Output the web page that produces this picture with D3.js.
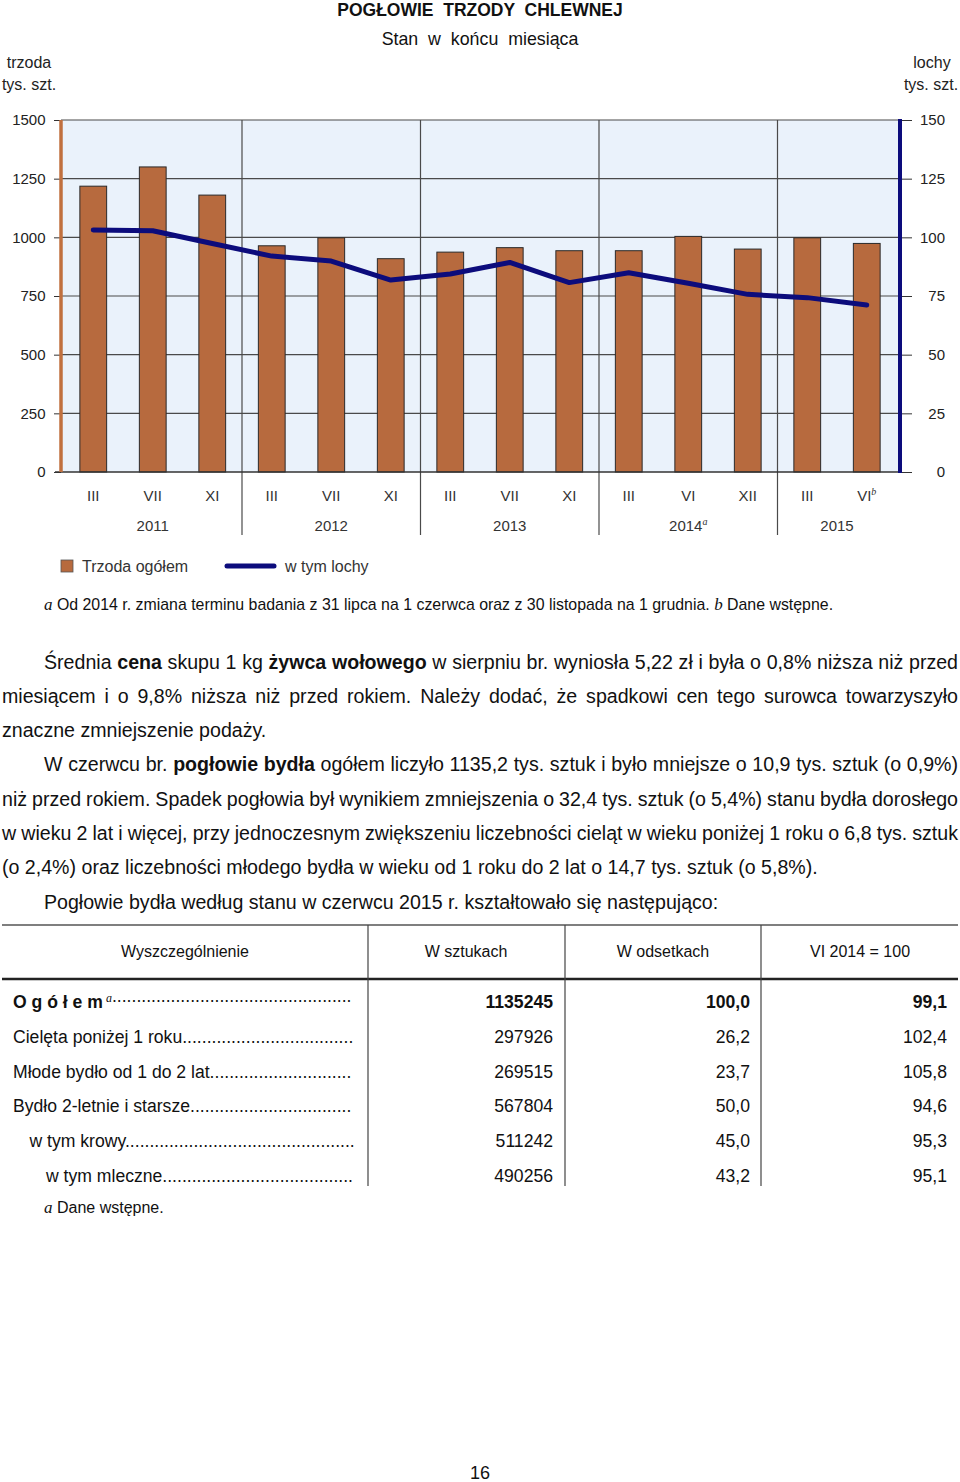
<!DOCTYPE html>
<html><head><meta charset="utf-8">
<script src="https://cdn.jsdelivr.net/npm/d3@7"></script>
<style>body{margin:0;background:#fff}svg{display:block;font-family:Arial,"Liberation Sans",sans-serif}</style>
</head><body>
<script>
// ---- chart data ----
const months = ["III","VII","XI","III","VII","XI","III","VII","XI","III","VI","XII","III","VI"];
const monthSup = ["","","","","","","","","","","","","","b"];
const years = ["2011","2012","2013","2014","2015"];
const yearSup = ["","","","a",""];
const yearSpans = [3,3,3,3,2];
const trzoda = [1218,1300,1180,964,998,909,937,956,943,943,1004,950,998,974];
const lochy = [103.1,102.8,97.4,92.0,89.9,81.8,84.4,89.3,80.7,84.9,80.4,75.7,74.3,71.2];
const leftTicks = [0,250,500,750,1000,1250,1500];
const rightTicks = [0,25,50,75,100,125,150];
const seriesNames = ["Trzoda ogółem","w tym lochy"];

// ---- table data ----
const tableHeaders = ["Wyszczególnienie","W sztukach","W odsetkach","VI 2014 = 100"];
const rowLabels = ["O g ó ł e m","Cielęta poniżej 1 roku","Młode bydło od 1 do 2 lat","Bydło 2-letnie i starsze","w tym krowy","w tym mleczne"];
const rowIndent = [0,0,0,0,1,2];
const colSztuk = ["1135245","297926","269515","567804","511242","490256"];
const colOdsetki = ["100,0","26,2","23,7","50,0","45,0","43,2"];
const colIndex = ["99,1","102,4","105,8","94,6","95,3","95,1"];

// ---- text ----
const paraLines = [
  {x:44, j:true, segs:[["Średnia ",0],["cena",1],[" skupu 1 kg ",0],["żywca wołowego",1],[" w sierpniu br. wyniosła 5,22 zł i była o 0,8% niższa niż przed",0]]},
  {x:2, j:true, segs:[["miesiącem i o 9,8% niższa niż przed rokiem. Należy dodać, że spadkowi cen tego surowca towarzyszyło",0]]},
  {x:2, j:false, segs:[["znaczne zmniejszenie podaży.",0]]},
  {x:44, j:true, segs:[["W czerwcu br. ",0],["pogłowie bydła",1],[" ogółem liczyło 1135,2 tys. sztuk i było mniejsze o 10,9 tys. sztuk (o 0,9%)",0]]},
  {x:2, j:true, segs:[["niż przed rokiem. Spadek pogłowia był wynikiem zmniejszenia o 32,4 tys. sztuk (o 5,4%) stanu bydła dorosłego",0]]},
  {x:2, j:true, segs:[["w wieku 2 lat i więcej, przy jednoczesnym zwiększeniu liczebności cieląt w wieku poniżej 1 roku o 6,8 tys. sztuk",0]]},
  {x:2, j:false, segs:[["(o 2,4%) oraz liczebności młodego bydła w wieku od 1 roku do 2 lat o 14,7 tys. sztuk (o 5,8%).",0]]},
  {x:44, j:false, segs:[["Pogłowie bydła według stanu w czerwcu 2015 r. kształtowało się następująco:",0]]}
];

const W = 960, H = 1482;
const barColor = "#b76a3e", lineColor = "#0c0c7c", bgColor = "#eaf2fb", gridColor = "#4a4a4a", txt = "#222";
const svg = d3.select("body").append("svg").attr("width", W).attr("height", H);

// Titles
svg.append("text").attr("x",480).attr("y",15.5).attr("text-anchor","middle").attr("font-size",17.5).attr("font-weight","bold").attr("fill","#111").attr("xml:space","preserve").text("POGŁOWIE  TRZODY  CHLEWNEJ");
svg.append("text").attr("x",480).attr("y",45).attr("text-anchor","middle").attr("font-size",17.8).attr("fill","#111").attr("xml:space","preserve").text("Stan  w  końcu  miesiąca");
[["trzoda",29,68],["tys. szt.",29,90],["lochy",932,68],["tys. szt.",931,90]].forEach(d=>{
  svg.append("text").attr("x",d[1]).attr("y",d[2]).attr("text-anchor","middle").attr("font-size",16).attr("fill",txt).text(d[0]);
});

// Scales
const x = d3.scaleBand().domain(d3.range(months.length)).range([63.5,896.5]).paddingInner(0.55).paddingOuter(0.275);
const yL = d3.scaleLinear().domain([0,1500]).range([472,120]);
const yR = d3.scaleLinear().domain([0,150]).range([472,120]);
const plotL = 61, plotR = 900;

svg.append("rect").attr("x",plotL).attr("y",120).attr("width",plotR-plotL).attr("height",352).attr("fill",bgColor);

// horizontal grid
svg.append("g").selectAll("line").data(leftTicks.slice(1)).join("line")
  .attr("x1",plotL).attr("x2",plotR).attr("y1",d=>yL(d)).attr("y2",d=>yL(d))
  .attr("stroke",gridColor).attr("stroke-width",1.2);

// year separators
let cum = 0; const seps = [];
yearSpans.slice(0,-1).forEach(s=>{cum+=s; seps.push((x(cum-1)+x.bandwidth()+x(cum))/2);});
svg.append("g").selectAll("line").data(seps).join("line")
  .attr("x1",d=>d).attr("x2",d=>d).attr("y1",120).attr("y2",535)
  .attr("stroke",gridColor).attr("stroke-width",1.2);

// bars
svg.append("g").selectAll("rect").data(trzoda).join("rect")
  .attr("x",(d,i)=>x(i)).attr("width",x.bandwidth())
  .attr("y",d=>yL(d)).attr("height",d=>yL(0)-yL(d))
  .attr("fill",barColor).attr("stroke","#2a2a2a").attr("stroke-width",1);

// baseline
svg.append("line").attr("x1",55).attr("x2",plotR).attr("y1",472).attr("y2",472).attr("stroke","#333").attr("stroke-width",1.5);

// left axis
const gL = svg.append("g").attr("transform",`translate(${plotL},0)`)
  .call(d3.axisLeft(yL).tickValues(leftTicks).tickSize(7).tickPadding(8).tickFormat(d3.format("d")));
gL.select(".domain").remove();
gL.selectAll(".tick line").attr("stroke","#333");
gL.selectAll(".tick text").attr("font-size",15).attr("font-family","Arial, 'Liberation Sans', sans-serif").attr("fill",txt).attr("dx",-0.5);
svg.append("line").attr("x1",plotL).attr("x2",plotL).attr("y1",120).attr("y2",472).attr("stroke","#c0703f").attr("stroke-width",3.5);

// right axis
const gR = svg.append("g").attr("transform",`translate(${plotR},0)`)
  .call(d3.axisRight(yR).tickValues(rightTicks).tickSize(12).tickPadding(0).tickFormat(d3.format("d")));
gR.select(".domain").remove();
gR.selectAll(".tick line").attr("stroke","#333");
gR.selectAll(".tick text").attr("font-size",15).attr("font-family","Arial, 'Liberation Sans', sans-serif").attr("fill",txt).attr("text-anchor","end").attr("x",45);
svg.append("line").attr("x1",plotR).attr("x2",plotR).attr("y1",119).attr("y2",473).attr("stroke",lineColor).attr("stroke-width",4);

// line
const lineGen = d3.line().x((d,i)=>x(i)+x.bandwidth()/2).y(d=>yR(d));
svg.append("path").datum(lochy).attr("d",lineGen).attr("fill","none")
  .attr("stroke",lineColor).attr("stroke-width",5).attr("stroke-linejoin","round").attr("stroke-linecap","round");

// month labels
const mg = svg.append("g");
months.forEach((m,i)=>{
  const t = mg.append("text").attr("x",x(i)+x.bandwidth()/2).attr("y",501).attr("text-anchor","middle").attr("font-size",15).attr("fill","#333");
  t.append("tspan").text(m);
  if (monthSup[i]) t.append("tspan").attr("dy",-6).attr("font-size",10).attr("font-style","italic").attr("font-family","'Liberation Serif', serif").text(monthSup[i]);
});
// year labels
cum = 0;
years.forEach((yv,k)=>{
  const c = (x(cum)+x(cum+yearSpans[k]-1)+x.bandwidth())/2; cum+=yearSpans[k];
  const t = svg.append("text").attr("x",c).attr("y",531).attr("text-anchor","middle").attr("font-size",15).attr("fill","#333");
  t.append("tspan").text(yv);
  if (yearSup[k]) t.append("tspan").attr("dy",-6).attr("font-size",10).attr("font-style","italic").attr("font-family","'Liberation Serif', serif").text(yearSup[k]);
});

// legend
svg.append("rect").attr("x",61).attr("y",560).attr("width",12).attr("height",12).attr("fill",barColor).attr("stroke","#555").attr("stroke-width",0.8);
svg.append("text").attr("x",82).attr("y",572).attr("font-size",16).attr("fill","#333").text(seriesNames[0]);
svg.append("line").attr("x1",227).attr("x2",274).attr("y1",566).attr("y2",566).attr("stroke",lineColor).attr("stroke-width",5).attr("stroke-linecap","round");
svg.append("text").attr("x",285).attr("y",572).attr("font-size",16).attr("fill","#333").text(seriesNames[1]);

// footnote
const fn = svg.append("text").attr("x",44).attr("y",610).attr("font-size",15.9).attr("fill","#111");
fn.append("tspan").attr("font-style","italic").attr("font-family","'Liberation Serif', serif").attr("font-size",17).text("a");
fn.append("tspan").text(" Od 2014 r. zmiana terminu badania z 31 lipca na 1 czerwca oraz z 30 listopada na 1 grudnia. ");
fn.append("tspan").attr("font-style","italic").attr("font-family","'Liberation Serif', serif").attr("font-size",17).text("b");
fn.append("tspan").text(" Dane wstępne.");

// paragraphs
const lineY0 = 668.5, lineH = 34.3;
paraLines.forEach((ln,i)=>{
  const t = svg.append("text").attr("x",ln.x).attr("y",lineY0+i*lineH).attr("font-size",19.6).attr("fill","#111").attr("xml:space","preserve");
  ln.segs.forEach(s=>t.append("tspan").attr("font-weight",s[1]?"bold":"normal").text(s[0]));
  if (ln.j) {
    const full = ln.segs.map(s=>s[0]).join("");
    const nsp = (full.match(/ /g)||[]).length;
    const w = t.node().getComputedTextLength();
    const target = 958 - ln.x;
    t.style("word-spacing", ((target-w)/nsp)+"px");
  }
});

// table
const tg = svg.append("g");
tg.append("line").attr("x1",2).attr("x2",958).attr("y1",925).attr("y2",925).attr("stroke","#555").attr("stroke-width",1.5);
tg.append("line").attr("x1",2).attr("x2",958).attr("y1",979).attr("y2",979).attr("stroke","#222").attr("stroke-width",2.5);
const colSep = [368,565,761];
colSep.forEach(cx=>tg.append("line").attr("x1",cx).attr("x2",cx).attr("y1",925).attr("y2",1186).attr("stroke","#444").attr("stroke-width",1.2));
const colCenters = [185,466,663,860];
tableHeaders.forEach((h,i)=>tg.append("text").attr("x",colCenters[i]).attr("y",957).attr("text-anchor","middle").attr("font-size",16).attr("fill","#111").text(h));
const rowY0 = 1008, rowH = 34.8;
rowLabels.forEach((lab,i)=>{
  const y = rowY0+i*rowH;
  const t = tg.append("text").attr("x",13+rowIndent[i]*16.5).attr("y",y).attr("font-size",17.6).attr("fill","#111").attr("xml:space","preserve");
  if (i===0) {
    t.append("tspan").attr("font-weight","bold").text(lab);
    t.append("tspan").attr("dy",-6).attr("font-style","italic").attr("font-family","'Liberation Serif', serif").attr("font-size",12).text(" a");
    t.append("tspan").attr("dy",6).text("");
  } else {
    t.append("tspan").text(lab);
  }
  const dots = t.append("tspan").text("");
  const startX = +t.attr("x");
  let s = "";
  while (startX + t.node().getComputedTextLength() < 350) { s += "."; dots.text(s); }
  [colSztuk,colOdsetki,colIndex].forEach((col,k)=>{
    tg.append("text").attr("x",[553,750,947][k]).attr("y",y).attr("text-anchor","end").attr("font-size",17.6)
      .attr("font-weight",i===0?"bold":"normal").attr("fill","#111").text(col[i]);
  });
});
const tf = tg.append("text").attr("x",44).attr("y",1213).attr("font-size",16).attr("fill","#111");
tf.append("tspan").attr("font-style","italic").attr("font-family","'Liberation Serif', serif").attr("font-size",17).text("a");
tf.append("tspan").text(" Dane wstępne.");

svg.append("text").attr("x",480).attr("y",1479).attr("text-anchor","middle").attr("font-size",18).attr("fill","#111").text("16");
</script>
</body></html>
